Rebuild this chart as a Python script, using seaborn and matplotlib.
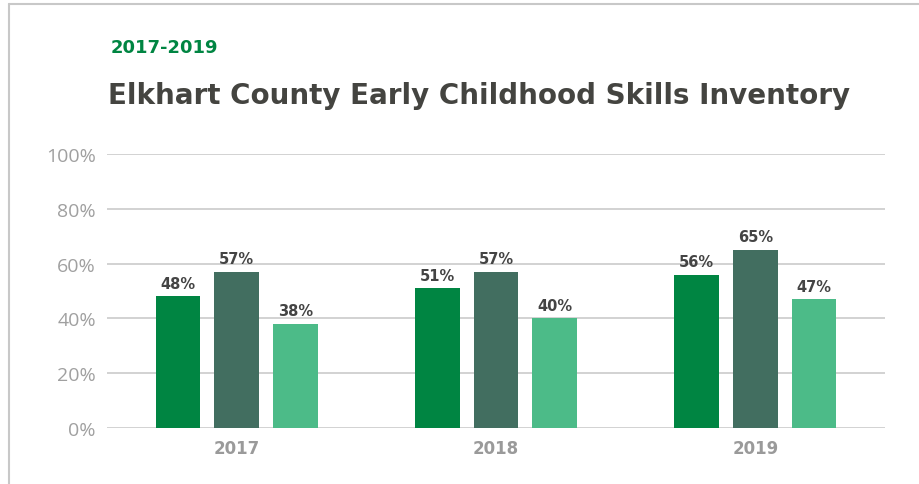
import pandas as pd
import seaborn as sns
import matplotlib.pyplot as plt
from matplotlib.lines import Line2D

# data
years = ['2017', '2018', '2019']
series = ['A', 'B', 'C']
vals_a = [48, 51, 56]
vals_b = [57, 57, 65]
vals_c = [38, 40, 47]
y_ticks = [0, 20, 40, 60, 80, 100]
colors = ['#008542', '#426e60', '#4cbb88']

df = pd.DataFrame({
    'year': years * 3,
    'series': [s for s in series for _ in years],
    'value': vals_a + vals_b + vals_c,
})

sns.set_style('white')
plt.rcParams['font.family'] = ['Open Sans', 'DejaVu Sans']

fig = plt.figure(figsize=(9.19, 4.85), dpi=100)
ax = fig.add_axes([0.1164, 0.1155, 0.8466, 0.5649])

sns.barplot(data=df, x='year', y='value', hue='series', palette=colors,
            width=0.68, gap=0.24, legend=False, ax=ax, saturation=1,
            linewidth=0)

for c in ax.containers:
    ax.bar_label(c, labels=[f'{v:.0f}%' for v in c.datavalues], padding=4,
                 fontsize=10.5, fontweight='bold', color='#444444',
                 family='DejaVu Sans')

ax.set_ylim(0, 100)
ax.set_xlim(-0.5, 2.5)
ax.set_yticks(y_ticks)
ax.set_yticklabels([f'{t}%' for t in y_ticks], fontsize=14, color='#a0a0a0')
ax.tick_params(axis='y', length=0, pad=8)
ax.tick_params(axis='x', length=0, pad=8)
for lbl in ax.get_xticklabels():
    lbl.set_fontsize(12)
    lbl.set_fontweight('bold')
    lbl.set_color('#9a9a9a')
    lbl.set_family('DejaVu Sans')
ax.yaxis.grid(True, color='#cfcfcf', linewidth=1.3)
ax.set_axisbelow(True)
sns.despine(ax=ax, left=True, bottom=True)
ax.set_xlabel('')
ax.set_ylabel('')

fig.text(0.12, 0.89, '2017-2019', fontsize=13, fontweight='bold', color='#008542',
         family='DejaVu Sans')
fig.text(0.118, 0.785, 'Elkhart County Early Childhood Skills Inventory',
         fontsize=20, fontweight='bold', color='#444440', family='DejaVu Sans')

# thin frame on the left and top edge
fig.add_artist(Line2D([0.0093, 0.0093], [0, 0.99], color='#c8c8c8', linewidth=1.5))
fig.add_artist(Line2D([0.0093, 1], [0.99, 0.99], color='#c8c8c8', linewidth=1.5))

fig.savefig('out.png', dpi=100)
